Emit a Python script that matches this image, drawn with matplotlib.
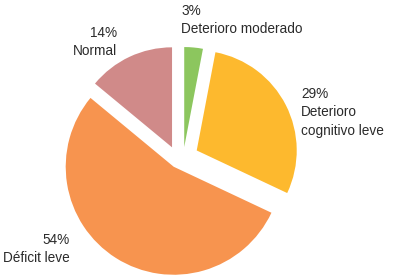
import matplotlib.pyplot as plt

# datos del gráfico
categorias = ['Deterioro moderado', 'Deterioro cognitivo leve', 'Déficit leve', 'Normal']
porcentajes = [3, 29, 54, 14]
colores = ['#8cc65e', '#fdb92e', '#f7944f', '#d08a89']
separacion = [0.13, 0.21, 0.08, 0.14]

plt.rcParams['font.family'] = ['Liberation Sans', 'DejaVu Sans']

fig = plt.figure(figsize=(3.93, 2.77), dpi=100)
ax = fig.add_axes([0, 0, 1, 1])

wedges, _ = ax.pie(porcentajes, colors=colores, explode=separacion,
                   startangle=90, counterclock=False, radius=1.0,
                   wedgeprops=dict(linewidth=0))
wedges[2].set_radius(1.08)  # la porción grande se ve algo mayor
# la porción verde queda un poco más a la derecha
cx, cy = wedges[0].center
wedges[0].set_center((cx + 0.05, cy))

ax.set_xlim(-1.78, 2.15)
ax.set_ylim(-1.17, 1.60)
ax.set_aspect('equal')
ax.axis('off')

fs = 9.8
txt = dict(fontsize=fs, color='#2b2b2b', linespacing=1.4, va='top')
ax.text(0.03, 1.56, f'{porcentajes[0]}%\n{categorias[0]}', ha='left', **txt)
ax.text(1.23, 0.73, f'{porcentajes[1]}%\nDeterioro\ncognitivo leve', ha='left', **txt)
ax.text(-1.08, -0.73, f'{porcentajes[2]}%\n{categorias[2]}', ha='right', multialignment='right', **txt)
ax.text(-0.61, 1.34, f'{porcentajes[3]}%\n{categorias[3]}', ha='right', multialignment='right', **txt)

plt.savefig('out.png', dpi=100)
